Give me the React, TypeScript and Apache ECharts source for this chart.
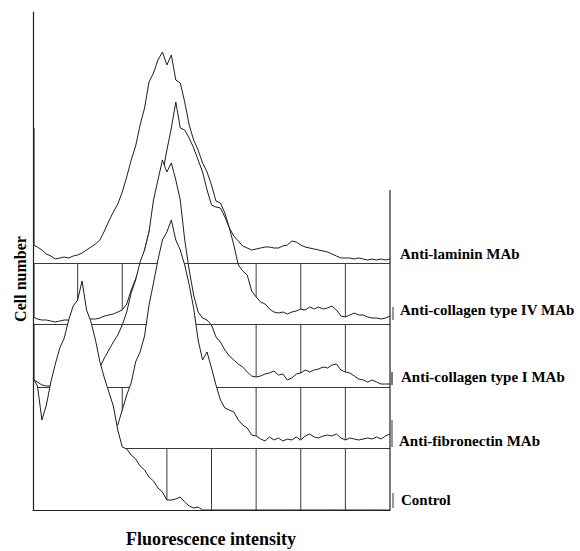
import React, { useEffect, useRef } from "react";
import * as echarts from "echarts";

// Fluorescence channels (x), 0..80
const channels: number[] = Array.from({ length: 81 }, (_, i) => i);
// Vertical gridline channels
const gridChannels = [10, 20, 30, 40, 50, 60, 70];
// Stacked offsets (baseline of each histogram), back to front
const baselines = [247, 186, 123, 62, 0];
const rightBorderTop = 320;

const names = [
  "Anti-laminin MAb",
  "Anti-collagen type IV MAb",
  "Anti-collagen type I MAb",
  "Anti-fibronectin MAb",
  "Control",
];

// Cell counts (heights above each histogram's own baseline)
const laminin = [
  18, 16, 13, 9, 7, 4, 5, 6, 5, 7,
  8, 10, 13, 16, 19, 23, 32, 42, 51, 59,
  71, 86, 103, 117, 138, 155, 181, 190, 203, 211,
  198, 208, 183, 180, 161, 138, 123, 113, 100, 91,
  78, 62, 60, 50, 35, 27, 22, 17, 15, 13,
  14, 15, 16, 16, 15, 15, 17, 18, 22, 21,
  18, 16, 15, 14, 13, 12, 11, 9, 7, 5,
  5, 5, 4, 5, 4, 3, 4, 3, 4, 3,
  4,
];
const collagenIV = [
  7, 5, 4, 4, 3, 2, 3, 4, 4, 4,
  4, 5, 5, 5, 5, 6, 8, 9, 10, 12,
  14, 20, 34, 45, 57, 74, 92, 112, 129, 149,
  174, 196, 222, 196, 194, 186, 176, 164, 152, 134,
  119, 117, 116, 107, 96, 79, 59, 53, 49, 33,
  27, 22, 20, 15, 12, 11, 12, 10, 12, 13,
  15, 14, 17, 15, 17, 15, 16, 18, 14, 8,
  7, 9, 11, 9, 9, 7, 6, 6, 5, 6,
  8,
];
const collagenI = [
  7, 5, 2, 1, 1, 2, 2, 3, 3, 3,
  4, 4, 5, 7, 10, 20, 29, 37, 45, 52,
  62, 75, 94, 107, 125, 137, 155, 187, 207, 227,
  215, 224, 207, 187, 147, 117, 92, 75, 69, 67,
  62, 50, 45, 37, 31, 27, 23, 20, 15, 11,
  10, 11, 13, 14, 16, 12, 13, 7, 9, 13,
  14, 17, 15, 17, 18, 20, 19, 22, 23, 17,
  15, 14, 11, 8, 7, 5, 7, 5, 3, 3,
  3,
];
const fibronectin = [
  6, 6, 5, 5, 4, 4, 5, 5, 5, 6,
  6, 7, 8, 9, 10, 12, 14, 16, 19, 23,
  38, 53, 65, 86, 96, 112, 143, 165, 188, 208,
  216, 228, 208, 198, 183, 163, 140, 108, 88, 96,
  80, 63, 48, 40, 38, 36, 28, 23, 20, 13,
  12, 9, 7, 11, 8, 10, 7, 9, 8, 11,
  8, 12, 14, 11, 10, 12, 13, 12, 14, 10,
  8, 10, 9, 8, 9, 10, 9, 11, 9, 12,
  14,
];
const control = [
  132, 124, 90, 105, 128, 146, 162, 172, 190, 204,
  210, 229, 200, 188, 170, 148, 132, 118, 104, 80,
  63, 61, 55, 51, 44, 40, 33, 29, 22, 18,
  10, 10, 11, 13, 8, 4, 2, 3, 0, 0,
  0, 0, 0, 0, 0, 0, 0, 0, 0, 0,
  0, 0, 0, 0, 0, 0, 0, 0, 0, 0,
  0, 0, 0, 0, 0, 0, 0, 0, 0, 0,
  0, 0, 0, 0, 0, 0, 0, 0, 0, 0,
  0,
];

const FONT = '"Liberation Serif", "Times New Roman", serif';
const LINE = "#1e1e1e";
const GRID = "#3a3a3a";

export default function App() {
  const ref = useRef<HTMLDivElement>(null);

  useEffect(() => {
    if (!ref.current) return;
    const chart = echarts.init(ref.current, null, { renderer: "svg" });
    const histograms = [laminin, collagenIV, collagenI, fibronectin, control];

    const segs: number[][] = [];
    for (let k = 0; k < baselines.length - 1; k++) {
      for (const g of gridChannels) segs.push([g, baselines[k + 1], baselines[k]]);
    }

    const vRender = (_p: any, api: any) => {
      const x = api.value(0);
      const a = api.coord([x, api.value(1)]);
      const b = api.coord([x, api.value(2)]);
      return {
        type: "line",
        shape: { x1: a[0], y1: a[1], x2: b[0], y2: b[1] },
        style: { stroke: GRID, lineWidth: 1 },
      };
    };

    const series: any[] = [
      {
        type: "custom",
        z: 1,
        silent: true,
        clip: false,
        data: segs,
        encode: { x: 0, y: 1 },
        renderItem: vRender,
      },
      {
        type: "custom",
        z: 20,
        silent: true,
        clip: false,
        data: [[channels[channels.length - 1], 0, rightBorderTop]],
        encode: { x: 0, y: 1 },
        renderItem: (_p: any, api: any) => {
          const x = api.value(0);
          const a = api.coord([x, api.value(1)]);
          const b = api.coord([x, api.value(2)]);
          return {
            type: "line",
            shape: { x1: a[0], y1: a[1], x2: b[0], y2: b[1] },
            style: { stroke: "#222", lineWidth: 1.2 },
          };
        },
      },
    ];

    histograms.forEach((h, i) => {
      series.push({
        type: "line",
        name: names[i] + " base",
        stack: "s" + i,
        data: h.map(() => baselines[i]),
        symbol: "none",
        silent: true,
        lineStyle: { opacity: 0, width: 0 },
        z: 2 + i,
      });
      series.push({
        type: "line",
        name: names[i],
        stack: "s" + i,
        data: h,
        symbol: "none",
        silent: true,
        lineStyle: { color: LINE, width: 1 },
        areaStyle: { color: "#ffffff", opacity: 1 },
        z: 2 + i,
        markLine:
          i < baselines.length - 1
            ? {
                silent: true,
                symbol: "none",
                label: { show: false },
                lineStyle: { color: GRID, width: 1, type: "solid" },
                data: [{ yAxis: baselines[i] }],
              }
            : undefined,
      });
    });

    const label = (text: string, x: number, y: number) => ({
      type: "text",
      x,
      y,
      style: {
        text,
        font: `bold 15px ${FONT}`,
        fill: "#000",
        textAlign: "left",
        textVerticalAlign: "middle",
      },
    });

    chart.setOption({
      animation: false,
      backgroundColor: "#ffffff",
      grid: { left: 33, right: 190, top: 12, bottom: 41 },
      xAxis: {
        type: "category",
        data: channels,
        boundaryGap: false,
        z: 20,
        axisLine: { show: true, lineStyle: { color: "#222", width: 1.2 } },
        axisTick: { show: false },
        axisLabel: { show: false },
        splitLine: { show: false },
      },
      yAxis: {
        type: "value",
        min: 0,
        max: 498,
        z: 20,
        axisLine: { show: true, lineStyle: { color: "#222", width: 1.2 } },
        axisTick: { show: false },
        axisLabel: { show: false },
        splitLine: { show: false },
      },
      series,
      graphic: [
        label(names[0], 400, 254),
        label(names[1], 400, 310),
        label(names[2], 401, 377),
        label(names[3], 399, 441),
        label(names[4], 401, 500),
        {
          type: "line",
          shape: { x1: 34.5, y1: 128, x2: 34.5, y2: 510 },
          style: { stroke: "#888", lineWidth: 1 },
        },
        { type: "line", shape: { x1: 393, y1: 307, x2: 393, y2: 320 }, style: { stroke: "#333", lineWidth: 1 } },
        { type: "line", shape: { x1: 392, y1: 372, x2: 392, y2: 385 }, style: { stroke: "#777", lineWidth: 2 } },
        { type: "line", shape: { x1: 392, y1: 420, x2: 392, y2: 447 }, style: { stroke: "#333", lineWidth: 1 } },
        { type: "line", shape: { x1: 393, y1: 493, x2: 393, y2: 508 }, style: { stroke: "#333", lineWidth: 1 } },
        {
          type: "text",
          x: 20,
          y: 279,
          rotation: Math.PI / 2,
          style: {
            text: "Cell number",
            font: `bold 16px ${FONT}`,
            fill: "#000",
            textAlign: "center",
            textVerticalAlign: "middle",
          },
        },
        {
          type: "text",
          x: 211,
          y: 539,
          style: {
            text: "Fluorescence intensity",
            font: `bold 18px ${FONT}`,
            fill: "#000",
            textAlign: "center",
            textVerticalAlign: "middle",
          },
        },
      ],
    });

    return () => chart.dispose();
  }, []);

  return (
    <div
      ref={ref}
      style={{ position: "fixed", left: 0, top: 0, width: 580, height: 551, background: "#fff" }}
    />
  );
}
